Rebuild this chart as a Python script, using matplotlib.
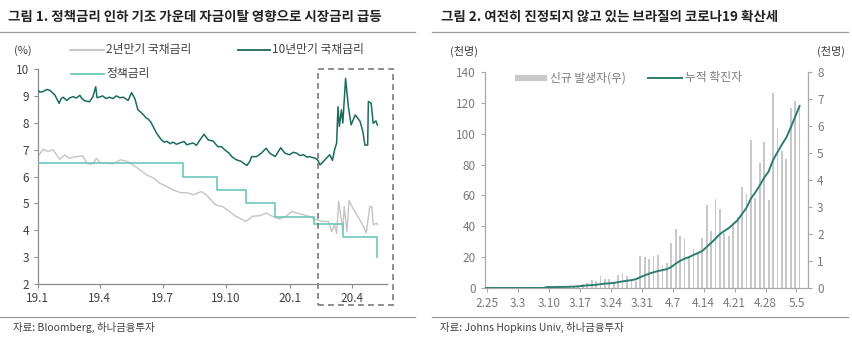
import matplotlib
matplotlib.use('Agg')
import matplotlib.pyplot as plt
from matplotlib.patches import Rectangle
from matplotlib.lines import Line2D
import numpy as np
import pandas as pd

plt.rcParams['font.family'] = ['Noto Sans CJK KR', 'DejaVu Sans']

# ---------------- data: chart 1 (Brazil yields, %) ----------------
y10_dates = ['2019-01-01','2019-01-04','2019-01-09','2019-01-14','2019-01-19','2019-01-26','2019-02-01',
             '2019-02-04','2019-02-07','2019-02-12','2019-02-16','2019-02-21','2019-02-26','2019-03-03',
             '2019-03-06','2019-03-10','2019-03-17','2019-03-22','2019-03-26','2019-03-28','2019-04-01',
             '2019-04-05','2019-04-10','2019-04-15','2019-04-20','2019-04-25','2019-04-30','2019-05-05',
             '2019-05-12','2019-05-17','2019-05-22','2019-05-26','2019-05-30','2019-06-03','2019-06-07',
             '2019-06-10','2019-06-14','2019-06-17','2019-06-22','2019-06-29','2019-07-03','2019-07-07',
             '2019-07-12','2019-07-16','2019-07-21','2019-07-26','2019-08-01','2019-08-05','2019-08-10',
             '2019-08-14','2019-08-19','2019-08-24','2019-08-30','2019-09-05','2019-09-12','2019-09-19',
             '2019-09-24','2019-10-02','2019-10-06','2019-10-09','2019-10-16','2019-10-23','2019-10-27',
             '2019-10-31','2019-11-04','2019-11-07','2019-11-14','2019-11-21','2019-11-28','2019-12-03',
             '2019-12-11','2019-12-19','2019-12-25','2020-01-01','2020-01-06','2020-01-11','2020-01-16',
             '2020-01-21','2020-01-26','2020-01-30','2020-02-04','2020-02-07','2020-02-11','2020-02-14',
             '2020-02-21','2020-02-28','2020-03-03','2020-03-06','2020-03-09','2020-03-11','2020-03-13',
             '2020-03-16','2020-03-18','2020-03-22','2020-03-26','2020-03-30','2020-04-05','2020-04-12',
             '2020-04-16','2020-04-19','2020-04-23','2020-04-24','2020-04-28','2020-05-01','2020-05-05',
             '2020-05-07']
y10_vals = [9.22, 9.14, 9.16, 9.24, 9.20, 9.03, 8.72,
            8.90, 8.95, 8.83, 8.92, 8.97, 8.92, 9.02,
            8.90, 8.82, 8.78, 8.97, 9.34, 8.93, 8.96,
            9.00, 8.90, 8.95, 8.90, 9.00, 8.93, 8.95,
            8.83, 9.12, 8.88, 8.49, 8.40, 8.30, 8.18,
            8.14, 8.02, 7.87, 7.62, 7.37, 7.28, 7.31,
            7.22, 7.28, 7.20, 7.25, 7.30, 7.18, 7.22,
            7.25, 7.16, 7.36, 7.57, 7.36, 7.32, 7.11,
            7.11, 6.93, 6.85, 6.74, 6.62, 6.56, 6.48,
            6.41, 6.55, 6.74, 6.74, 6.87, 7.05, 6.87,
            6.74, 7.07, 6.87, 6.81, 6.90, 6.87, 6.78,
            6.81, 6.72, 6.74, 6.70, 6.68, 6.60, 6.43,
            6.62, 6.81, 6.60, 6.99, 7.24, 8.60, 7.86,
            8.48, 7.99, 9.65, 8.60, 7.92, 8.29, 8.05,
            7.67, 7.17, 7.17, 8.79, 8.73, 7.98, 8.07,
            7.92]

y2_dates = ['2019-01-01','2019-01-09','2019-01-16','2019-01-23','2019-02-02','2019-02-09','2019-02-16',
            '2019-02-26','2019-03-07','2019-03-14','2019-03-22','2019-03-27','2019-04-01','2019-04-10',
            '2019-04-20','2019-05-01','2019-05-12','2019-05-19','2019-05-29','2019-06-08','2019-06-18',
            '2019-06-27','2019-07-07','2019-07-16','2019-07-27','2019-08-05','2019-08-15','2019-08-26',
            '2019-09-02','2019-09-16','2019-09-26','2019-10-05','2019-10-15','2019-10-25','2019-10-30',
            '2019-11-08','2019-11-18','2019-11-28','2019-12-07','2019-12-17','2019-12-27','2020-01-04',
            '2020-01-11','2020-01-21','2020-01-31','2020-02-09','2020-02-16','2020-02-26','2020-03-02',
            '2020-03-06','2020-03-09','2020-03-12','2020-03-18','2020-03-20','2020-03-24','2020-03-27',
            '2020-04-02','2020-04-09','2020-04-17','2020-04-21','2020-04-26','2020-04-29','2020-05-01',
            '2020-05-06','2020-05-07']
y2_vals = [6.74, 7.01, 6.93, 7.00, 6.64, 6.80, 6.68,
           6.74, 6.77, 6.47, 6.47, 6.68, 6.52, 6.50,
           6.47, 6.62, 6.55, 6.43, 6.25, 6.06, 5.94,
           5.75, 5.63, 5.50, 5.40, 5.40, 5.32, 5.44,
           5.32, 4.94, 4.88, 4.71, 4.52, 4.39, 4.33,
           4.52, 4.54, 4.64, 4.52, 4.42, 4.52, 4.70,
           4.64, 4.58, 4.50, 4.39, 4.33, 4.33, 3.94,
           4.21, 3.88, 5.07, 4.01, 4.88, 3.95, 5.10,
           4.80, 4.50, 4.14, 3.90, 4.88, 4.88, 4.20,
           4.27, 4.21]

policy_dates = ['2019-01-01','2019-07-31','2019-09-18','2019-10-30','2019-12-11',
                '2020-02-05','2020-03-18','2020-05-06']
policy_vals = [6.50, 6.00, 5.50, 5.00, 4.50, 4.25, 3.75, 3.00]

left_xtick_dates = ['2019-01-01','2019-04-01','2019-07-01','2019-10-01','2020-01-01','2020-04-01']
left_xtick_labels = ['19.1','19.4','19.7','19.10','20.1','20.4']

# ---------------- data: chart 2 (Brazil COVID-19, thousand persons) ----------------
covid_days = list(pd.date_range('2020-02-25', '2020-05-06').strftime('%-m.%-d'))
new_cases = [0.00, 0.01, 0.00, 0.00, 0.01, 0.00, 0.00, 0.01, 0.00, 0.00,
             0.02, 0.01, 0.02, 0.02, 0.01, 0.02, 0.02, 0.03, 0.02, 0.08,
             0.05, 0.06, 0.14, 0.19, 0.30, 0.27, 0.44, 0.32, 0.32, 0.23,
             0.48, 0.54, 0.46, 0.32, 0.27, 1.18, 1.13, 1.07, 1.18, 1.22,
             0.85, 0.94, 1.68, 2.20, 1.94, 1.80, 1.19, 1.44, 1.35, 1.84,
             3.07, 2.11, 3.30, 2.93, 2.02, 1.94, 2.40, 2.62, 3.75, 3.50,
             5.50, 3.35, 4.62, 5.42, 3.27, 7.21, 5.91, 5.08, 4.76, 6.65,
             6.93, 6.78]
cumulative = [0.0, 0.0, 0.0, 0.0, 0.0, 0.0, 0.0, 0.0, 0.0, 0.0,
              0.0, 0.0, 0.0, 0.0, 0.6, 0.6, 0.6, 0.7, 0.7, 0.8,
              0.9, 1.1, 1.4, 1.7, 1.9, 2.1, 2.5, 2.8, 3.0, 3.3,
              3.8, 4.3, 4.7, 5.1, 5.7, 7.0, 8.2, 9.3, 10.2, 11.0,
              11.6, 12.2, 13.6, 15.8, 17.6, 19.0, 20.0, 21.4, 22.6, 24.0,
              26.6, 29.2, 32.0, 35.0, 37.0, 38.8, 41.4, 44.0, 48.0, 52.0,
              58.0, 62.0, 66.5, 71.5, 75.5, 83.0, 88.0, 93.0, 97.5, 104.0,
              111.0, 118.0]

# ---------------- figure ----------------
W, H = 853, 343
fig = plt.figure(figsize=(W / 100, H / 100), dpi=100)

def fx(px):
    return px / W

def fy(py):
    return 1 - py / H

C10 = '#1d6b5c'
C2 = '#c4c4c4'
CPOL = '#6cc7bb'
AXC = '#8c8c8c'
TXT = '#404040'
CCUM = '#2e7d6e'

# ---- titles, rules, sources ----
fig.text(fx(8), fy(17), '그림 1. 정책금리 인하 기조 가운데 자금이탈 영향으로 시장금리 급등',
         fontsize=9.7, fontweight='bold', color='#222222', va='center', ha='left')
fig.text(fx(441), fy(17), '그림 2. 여전히 진정되지 않고 있는 브라질의 코로나19 확산세',
         fontsize=9.7, fontweight='bold', color='#222222', va='center', ha='left')
for x0, x1 in [(0, 415), (432, 848)]:
    fig.add_artist(Line2D([fx(x0), fx(x1)], [fy(32), fy(32)], transform=fig.transFigure,
                          color='#9a9a9a', lw=0.9))
    fig.add_artist(Line2D([fx(x0), fx(x1)], [fy(316.5), fy(316.5)], transform=fig.transFigure,
                          color='#9a9a9a', lw=0.9))
fig.text(fx(13), fy(327), '자료: Bloomberg, 하나금융투자', fontsize=7.5, color=TXT, va='center')
fig.text(fx(440), fy(327), '자료: Johns Hopkins Univ, 하나금융투자', fontsize=7.5, color=TXT, va='center')

# ---- chart 1 ----
ax1 = fig.add_axes([fx(37.7), fy(284), fx(387) - fx(37.7), fy(69) - fy(284)])
d2 = pd.to_datetime(y2_dates)
d10 = pd.to_datetime(y10_dates)
dp = pd.to_datetime(policy_dates)
ax1.plot(d2, y2_vals, color=C2, lw=1.0, zorder=2)
ax1.plot(dp, policy_vals, color=CPOL, lw=1.2, drawstyle='steps-post', zorder=3)
ax1.plot(d10, y10_vals, color=C10, lw=1.1, zorder=4)
ax1.set_ylim(2, 10)
ax1.set_yticks(range(2, 11))
ax1.set_xlim(pd.Timestamp('2019-01-01'), pd.Timestamp('2020-05-21'))
ax1.set_xticks(pd.to_datetime(left_xtick_dates))
ax1.set_xticklabels(left_xtick_labels)
for s in ['top', 'right']:
    ax1.spines[s].set_visible(False)
for s in ['left', 'bottom']:
    ax1.spines[s].set_color(AXC)
    ax1.spines[s].set_linewidth(0.9)
ax1.tick_params(axis='both', colors=AXC, labelcolor=TXT, labelsize=8.5, length=3, width=0.8,
                direction='out', pad=3)
ax1.set_facecolor('none')

fig.text(fx(14), fy(51), '(%)', fontsize=8, color=TXT, va='center')
for (xa, xb, yy, col, lab) in [(70, 104, 50, C2, '2년만기 국채금리'),
                               (238, 270, 50, C10, '10년만기 국채금리'),
                               (71, 104, 74, CPOL, '정책금리')]:
    fig.add_artist(Line2D([fx(xa), fx(xb)], [fy(yy), fy(yy)], transform=fig.transFigure,
                          color=col, lw=1.3))
    fig.text(fx(xb + 2), fy(yy), lab, fontsize=8.5, color=TXT, va='center', ha='left')

fig.add_artist(Rectangle((fx(318), fy(305)), fx(393) - fx(318), fy(69) - fy(305),
                         transform=fig.transFigure, fill=False, ec='#7a7a7a', lw=1.2,
                         ls=(0, (3.5, 2.5))))

# ---- chart 2 ----
n = len(new_cases)
xpos = np.arange(n)
axb = fig.add_axes([fx(485), fy(288), fx(808) - fx(485), fy(72) - fy(288)])
axl = axb.twinx()
axb.bar(xpos - 0.3, new_cases, width=0.4, color='#c8c8c8', zorder=2)
axb.set_ylim(0, 8)
axb.set_yticks(range(0, 9))
axb.yaxis.set_ticks_position('right')
axb.yaxis.set_label_position('right')
tick_idx = list(range(0, n, 7))
axb.set_xticks(tick_idx)
axb.set_xticklabels([covid_days[i] for i in tick_idx])
axl.plot(xpos - 0.3, cumulative, color=CCUM, lw=1.4, zorder=3)
axl.set_ylim(0, 140)
axl.set_yticks(range(0, 141, 20))
axl.yaxis.set_ticks_position('left')
axl.yaxis.set_label_position('left')
axb.spines['left'].set_visible(False)
axl.spines['right'].set_visible(False)
axl.spines['bottom'].set_visible(False)
for a in (axb, axl):
    a.spines['top'].set_visible(False)
    for s in ['left', 'right', 'bottom']:
        a.spines[s].set_color('#a8a8a8')
        a.spines[s].set_linewidth(0.9)
    a.tick_params(axis='both', colors='#a8a8a8', labelcolor='#7a7a7a', labelsize=8.5,
                  length=3, width=0.8, direction='out')
axb.set_xlim(-0.4, 72.6)

fig.text(fx(450), fy(51), '(천명)', fontsize=8, color=TXT, va='center')
fig.text(fx(817), fy(51), '(천명)', fontsize=8, color=TXT, va='center')
fig.add_artist(Line2D([fx(515), fx(547)], [fy(78), fy(78)], transform=fig.transFigure,
                      color='#c8c8c8', lw=4.5, solid_capstyle='butt'))
fig.text(fx(550), fy(78), '신규 발생자(우)', fontsize=8.5, color='#7a7a7a', va='center')
fig.add_artist(Line2D([fx(648), fx(682)], [fy(78), fy(78)], transform=fig.transFigure,
                      color=CCUM, lw=1.4))
fig.text(fx(685), fy(78), '누적 확진자', fontsize=8.5, color='#7a7a7a', va='center')

fig.savefig('out.png', dpi=100)
